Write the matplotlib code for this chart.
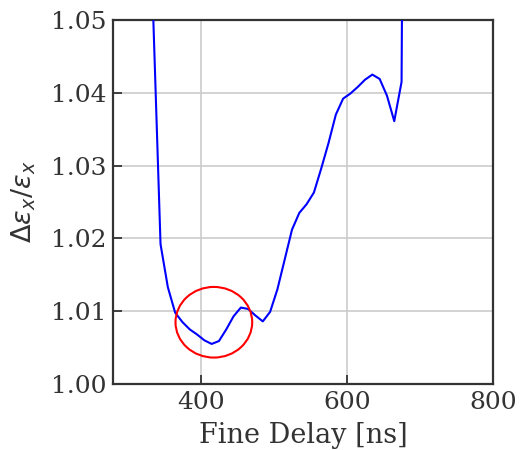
import numpy as np
import matplotlib
matplotlib.use('Agg')
import matplotlib.pyplot as plt
from matplotlib.patches import Ellipse

# fine delay scan [ns] vs relative emittance growth
delay = [335, 345, 355, 365, 375, 385, 395, 405, 415, 425,
         435, 445, 455, 465, 475, 485, 495, 505, 515, 525,
         535, 545, 555, 565, 575, 585, 595, 605, 615, 625,
         635, 645, 655, 665, 675, 685]
emit = [1.0505, 1.0192, 1.0133, 1.0098, 1.0085, 1.0075, 1.0068, 1.0060, 1.0055, 1.0059,
        1.0075, 1.0093, 1.0105, 1.0103, 1.0094, 1.0086, 1.0099, 1.0130, 1.0171, 1.0212,
        1.0235, 1.0247, 1.0263, 1.0296, 1.0331, 1.0370, 1.0392, 1.0399, 1.0408, 1.0418,
        1.0425, 1.0419, 1.0396, 1.0361, 1.0415, 1.2100]

# highlighted region
circ_x, circ_y = 418, 1.00848
circ_w, circ_h = 105, 0.0097

plt.rcParams['font.family'] = 'DejaVu Serif'
plt.rcParams['mathtext.fontset'] = 'dejavusans'

fig = plt.figure(figsize=(5.21, 4.5), dpi=100)
ax = fig.add_axes([0.217, 0.1467, 0.729, 0.8089])

ax.plot(delay, emit, color='#0000ff', linewidth=1.5, zorder=3)
ax.add_patch(Ellipse((circ_x, circ_y), circ_w, circ_h, fill=False,
                     edgecolor='#ff0000', linewidth=1.5, zorder=4))

ax.set_xlim(280, 800)
ax.set_ylim(1.00, 1.05)
ax.set_xticks([400, 600, 800])
ax.set_yticks([1.00, 1.01, 1.02, 1.03, 1.04, 1.05])
ax.set_yticklabels(['1.00', '1.01', '1.02', '1.03', '1.04', '1.05'])
ax.grid(True, color='#cccccc', linewidth=1.2)
ax.set_axisbelow(True)

for s in ax.spines.values():
    s.set_color('#333333')
    s.set_linewidth(1.6)
ax.tick_params(direction='in', length=6.5, width=1.3, color='#333333',
               labelsize=18, labelcolor='#333333', pad=5)

ax.set_xlabel('Fine Delay [ns]', fontsize=19.5, color='#333333', labelpad=5.5)
ax.set_ylabel(r'$\Delta\varepsilon_x/\varepsilon_x$', fontsize=19.5, color='#333333', labelpad=9)

fig.savefig('out.png', dpi=100)
